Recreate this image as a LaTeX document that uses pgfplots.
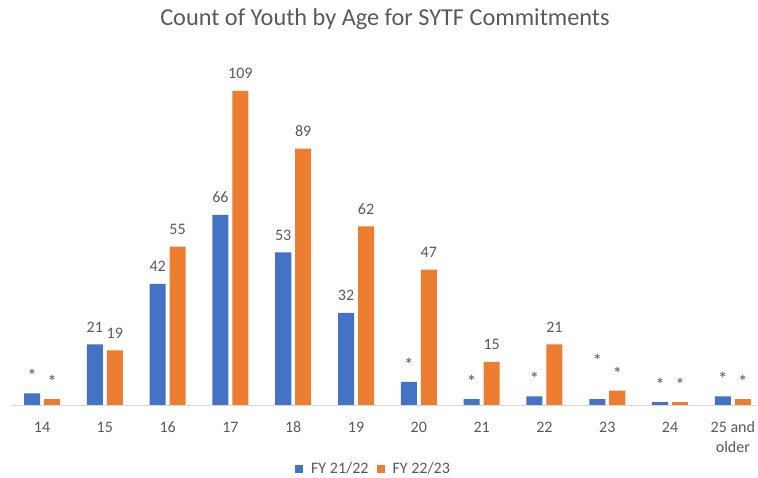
\documentclass[border=0pt]{standalone}
\usepackage{pgfplots}
\pgfplotsset{compat=1.18}
\usepackage{fontspec}
\setmainfont{Carlito}
\definecolor{cblue}{HTML}{4472C4}
\definecolor{corange}{HTML}{ED7D31}
\definecolor{txt}{HTML}{595959}
\definecolor{axl}{HTML}{D9D9D9}
\newcommand{\twoline}[2]{\vtop{\baselineskip=20pt\halign{\hfil##\hfil\cr #1\cr #2\cr}}}
\newcommand{\st}{{\fontsize{19}{19}\selectfont\raisebox{-1.5pt}{*}}}
\newcommand{\sthigh}{{\fontsize{19}{19}\selectfont\raisebox{19.5pt}{*}}}
\begin{document}
\begin{tikzpicture}
\useasboundingbox (0,0) rectangle (758pt,478pt);
\node[text=txt, font=\fontsize{24.3}{28}\selectfont] at (385pt,459pt) {Count of Youth by Age for SYTF Commitments};
\begin{axis}[
  at={(10.6pt,73pt)}, anchor=south west,
  scale only axis, width=747.4pt, height=345pt,
  xmin=-0.5, xmax=11.4, ymin=0, ymax=119.75,
  axis y line=none, axis x line=bottom,
  x axis line style={-, draw=axl, line width=0.8pt},
  xtick={0,...,11},
  xticklabels={14,15,16,17,18,19,20,21,22,23,24,{\twoline{25 and}{older}}},
  major tick length=0pt,
  xticklabel style={anchor=base, inner sep=0pt, yshift=-28pt, text=txt, font=\fontsize{16}{20}\selectfont},
  ybar, bar width=0.255,
  point meta=explicit symbolic,
  nodes near coords,
  every node near coord/.append style={anchor=base, inner sep=0pt, yshift=12pt, text=txt, font=\fontsize{16}{19}\selectfont},
  legend columns=2,
  legend style={at={(0.4856,-0.1855)}, anchor=center, draw=none, fill=none, text=txt, font=\fontsize{16}{19}\selectfont, column sep=6pt},
  legend image code/.code={\fill[#1] (0pt,-4pt) rectangle (8pt,4pt);},
]
\addplot[fill=cblue, draw=none, bar shift=-0.159] coordinates {
 (0,4) [\st] (1,21) [21] (2,42) [42] (3,66) [66] (4,53) [53] (5,32) [32]
 (6,8) [\st] (7,2) [\st] (8,3) [\st] (9,2) [\sthigh] (10,1) [\st] (11,3) [\st]};
\addlegendentry{FY 21/22}
\addplot[fill=corange, draw=none, bar shift=0.159] coordinates {
 (0,2) [\st] (1,19) [19] (2,55) [55] (3,109) [109] (4,89) [89] (5,62) [62]
 (6,47) [47] (7,15) [15] (8,21) [21] (9,5) [\st] (10,1) [\st] (11,2) [\st]};
\addlegendentry{FY 22/23}
\end{axis}
\end{tikzpicture}
\end{document}
